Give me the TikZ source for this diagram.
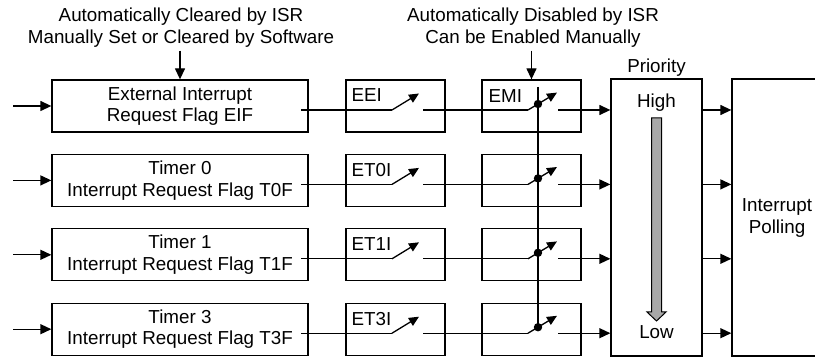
\documentclass[tikz,border=0pt]{standalone}
\usepackage{fontspec}
\setmainfont{Liberation Sans}
\usetikzlibrary{arrows.meta,calc}
\definecolor{arrowgray}{RGB}{168,168,168}
\tikzset{
  box/.style={draw, line width=1.3pt, minimum height=52pt, inner sep=0pt},
  lbl/.style={font=\fontsize{18.8}{21.5}\selectfont, inner sep=0pt},
  arr/.style={-{Triangle[length=11pt,width=10pt]}},
  tipar/.style={-{Triangle[length=10pt,width=9pt]}},
}
\begin{document}
\begin{tikzpicture}[x=1pt,y=-1pt,line width=1.3pt]
\useasboundingbox (0,0) rectangle (815,358);
\clip (0,0) rectangle (815,358);

% priority and polling boxes
\node[box, minimum width=91pt, minimum height=277pt] (prio) at (656.5,217.5) {};
\node[box, minimum width=90pt, minimum height=277pt] (poll) at (777,217.5) {};
\node[lbl, anchor=base] (plab) at (656.5,73) {Priority};
\node[lbl, anchor=base] (high) at (656.5,108) {High};
\node[lbl, anchor=base] (low) at (656.5,339) {Low};
\node[lbl, align=center] (polltxt) at (777,218) {Interrupt\\Polling};
\draw[line width=1pt, fill=arrowgray] (651.5,118) -- (661.5,118) -- (661.5,312) -- (666,312) -- (656.5,321) -- (647,312) -- (651.5,312) -- cycle;

\foreach \i/\t/\a/\b/\e in {1/80/External Interrupt/Request Flag EIF/EEI,
                              2/154.4/Timer 0/Interrupt Request Flag T0F/ET0I,
                              3/228.8/Timer 1/Interrupt Request Flag T1F/ET1I,
                              4/303.2/Timer 3/Interrupt Request Flag T3F/ET3I}{
  \pgfmathsetmacro\yc{\t+26}
  \pgfmathsetmacro\yl{\t+30}
  \node[box, minimum width=256pt, align=center, lbl] (flag\i) at (180,\yc) {\a\\\b};
  \node[box, minimum width=99pt] (en\i) at (395.5,\yc) {};
  \node[lbl, anchor=base west] (enl\i) at (351,\t+22) {\e};
  \node[box, minimum width=99pt] (em\i) at (531.5,\yc) {};
  \coordinate (in\i) at (13,\yc);
  \draw[arr] (in\i) -- (flag\i.west);
  \coordinate (fo\i) at (301,\yl);
  \coordinate (sa\i) at (392,\yl);
  \coordinate (sb\i) at (419,\yl-16.5);
  \coordinate (sc\i) at (423,\yl);
  \coordinate (ta\i) at (528,\yl);
  \coordinate (tb\i) at (557,\yl-17.4);
  \coordinate (dot\i) at (538,\yl-6);
  \coordinate (tc\i) at (558,\yl);
  \draw (fo\i) -- (sa\i);
  \draw[tipar] (sa\i) -- (sb\i);
  \draw (sc\i) -- (ta\i);
  \draw[tipar] (ta\i) -- (tb\i);
  \fill (dot\i) circle (4.2);
  \draw[arr] (tc\i) -- (prio.west |- tc\i);
  \draw[arr] (prio.east |- tc\i) -- (poll.west |- tc\i);
}
\node[lbl, anchor=base west] (eml) at (488,103) {EMI};
\coordinate (vtop) at (538,87);
\draw (vtop) -- (dot4);

% annotations
\node[lbl, align=center] (ann1) at (181,27.5) {Automatically Cleared by ISR\\Manually Set or Cleared by Software};
\node[lbl, align=center] (ann2) at (533,27.5) {Automatically Disabled by ISR\\Can be Enabled Manually};
\draw[arr, shorten <=3pt] (ann1.south -| flag1.north) -- (flag1.north);
\draw[arr, shorten <=3pt] (ann2.south -| em1.north) -- (em1.north);
\end{tikzpicture}
\end{document}
